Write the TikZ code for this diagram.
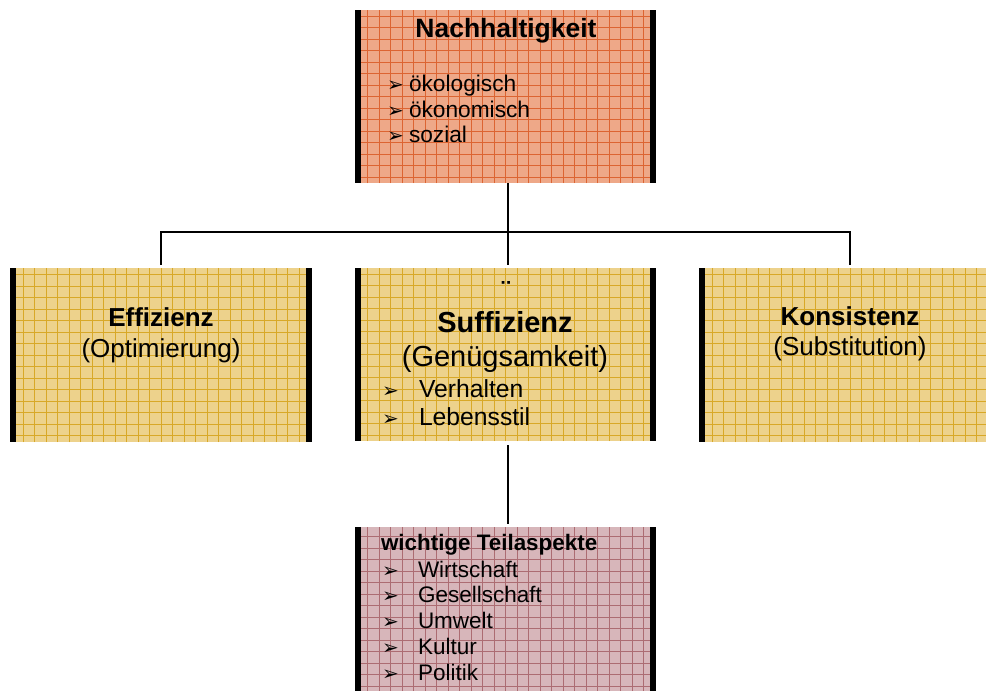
\documentclass[tikz,border=0pt]{standalone}
\usepackage{fontspec}
\setmainfont{Liberation Sans}
\newfontfamily\dvfont{DejaVu Sans}
\definecolor{topfill}{RGB}{238,168,136}
\definecolor{topgrid}{RGB}{220,100,50}
\definecolor{midfill}{RGB}{237,210,140}
\definecolor{midgrid}{RGB}{216,168,40}
\definecolor{botfill}{RGB}{215,182,186}
\definecolor{botgrid}{RGB}{172,108,114}
\newcommand{\fsz}[1]{\fontsize{#1}{#1}\selectfont}
\newcommand{\barrow}{{\dvfont\fontsize{20}{20}\selectfont ➢}}
\begin{document}
\begin{tikzpicture}[x=1pt,y=-1pt,
  box/.style={rectangle, inner sep=0pt, outer sep=0pt, anchor=north west,
    path picture={\draw[#1, line width=0.7pt] (path picture bounding box.south west) grid[step=11.5pt] (path picture bounding box.north east);}},
  txt/.style={inner sep=0pt, outer sep=0pt},
  conn/.style={draw=black, line width=2pt},
  barl/.style={fill=black}]
\useasboundingbox (0,0) rectangle (986,691);
\clip (0,0) rectangle (986,691);
\fill[white] (0,0) rectangle (986,691);
% boxes
\node[box=topgrid, fill=topfill, minimum width=301pt, minimum height=173pt] (top) at (355,10) {};
\node[box=midgrid, fill=midfill, minimum width=302pt, minimum height=174pt] (eff) at (10,268) {};
\node[box=midgrid, fill=midfill, minimum width=301pt, minimum height=173pt] (suf) at (355,268) {};
\node[box=midgrid, fill=midfill, minimum width=302pt, minimum height=174pt] (kon) at (699,268) {};
\node[box=botgrid, fill=botfill, minimum width=301pt, minimum height=180pt] (tei) at (355,527) {};
% bars
\foreach \n in {top,eff,suf,tei}{
  \fill[barl] (\n.north west) rectangle ([xshift=6pt]\n.south west);
  \fill[barl] ([xshift=-6pt]\n.north east) rectangle (\n.south east);
}
\fill[barl] (kon.north west) rectangle ([xshift=6pt]kon.south west);
% connectors
\coordinate (hub) at (508,232);
\coordinate (hl) at (eff.north |- hub);
\coordinate (hr) at (kon.north |- hub);
\draw[conn] (top.south -| hub) -- (hub);
\draw[conn] ([xshift=-1pt]hl) -- ([xshift=1pt]hr);
\draw[conn, shorten >=3pt] (hl) -- (eff.north);
\draw[conn, shorten >=3pt] (hr) -- (kon.north);
\draw[conn, shorten >=3pt] (hub) -- (suf.north -| hub);
\draw[conn, shorten <=4pt, shorten >=3pt] (suf.south -| hub) -- (tei.north -| hub);
% top texts
\node[txt, anchor=base, font=\bfseries\fsz{26.5}] (ttl) at (506,37) {Nachhaltigkeit};
\node[txt, anchor=base west] (ta1) at (387,91) {\barrow};
\node[txt, anchor=base west, font=\fsz{22.7}] (tt1) at (409,91) {ökologisch};
\node[txt, anchor=base west] (ta2) at (387,117) {\barrow};
\node[txt, anchor=base west, font=\fsz{22.7}] (tt2) at (409,117) {ökonomisch};
\node[txt, anchor=base west] (ta3) at (387,142) {\barrow};
\node[txt, anchor=base west, font=\fsz{22.7}] (tt3) at (409,142) {sozial};
% Effizienz
\node[txt, anchor=base, font=\bfseries\fsz{26}] (e1) at (161,326) {Effizienz};
\node[txt, anchor=base, font=\fsz{26}] (e2) at (161,357) {(Optimierung)};
% Suffizienz
\node[txt, anchor=base, font=\bfseries\fsz{26}] (sdots) at (506,299) {¨};
\node[txt, anchor=base, font=\bfseries\fsz{29}] (s1) at (505,332) {Suffizienz};
\node[txt, anchor=base, font=\fsz{29}] (s2) at (505,366) {(Genügsamkeit)};
\node[txt, anchor=base west] (sa1) at (382,397) {\barrow};
\node[txt, anchor=base west, font=\fsz{24.7}] (st1) at (419,397) {Verhalten};
\node[txt, anchor=base west] (sa2) at (382,425) {\barrow};
\node[txt, anchor=base west, font=\fsz{24.7}] (st2) at (419,425) {Lebensstil};
% Konsistenz
\node[txt, anchor=base, font=\bfseries\fsz{26}] (k1) at (850,325) {Konsistenz};
\node[txt, anchor=base, font=\fsz{26}] (k2) at (850,355) {(Substitution)};
% Teilaspekte
\node[txt, anchor=base west, font=\bfseries\fsz{22.4}] (w0) at (381,550) {wichtige Teilaspekte};
\foreach \t/\y [count=\i] in {Wirtschaft/577,Gesellschaft/602.7,Umwelt/628.4,Kultur/654,Politik/680}{
  \node[txt, anchor=base west] (wa\i) at (382,\y) {\barrow};
  \node[txt, anchor=base west, font=\fsz{22.5}] (wt\i) at (418,\y) {\t};
}
\end{tikzpicture}
\end{document}
